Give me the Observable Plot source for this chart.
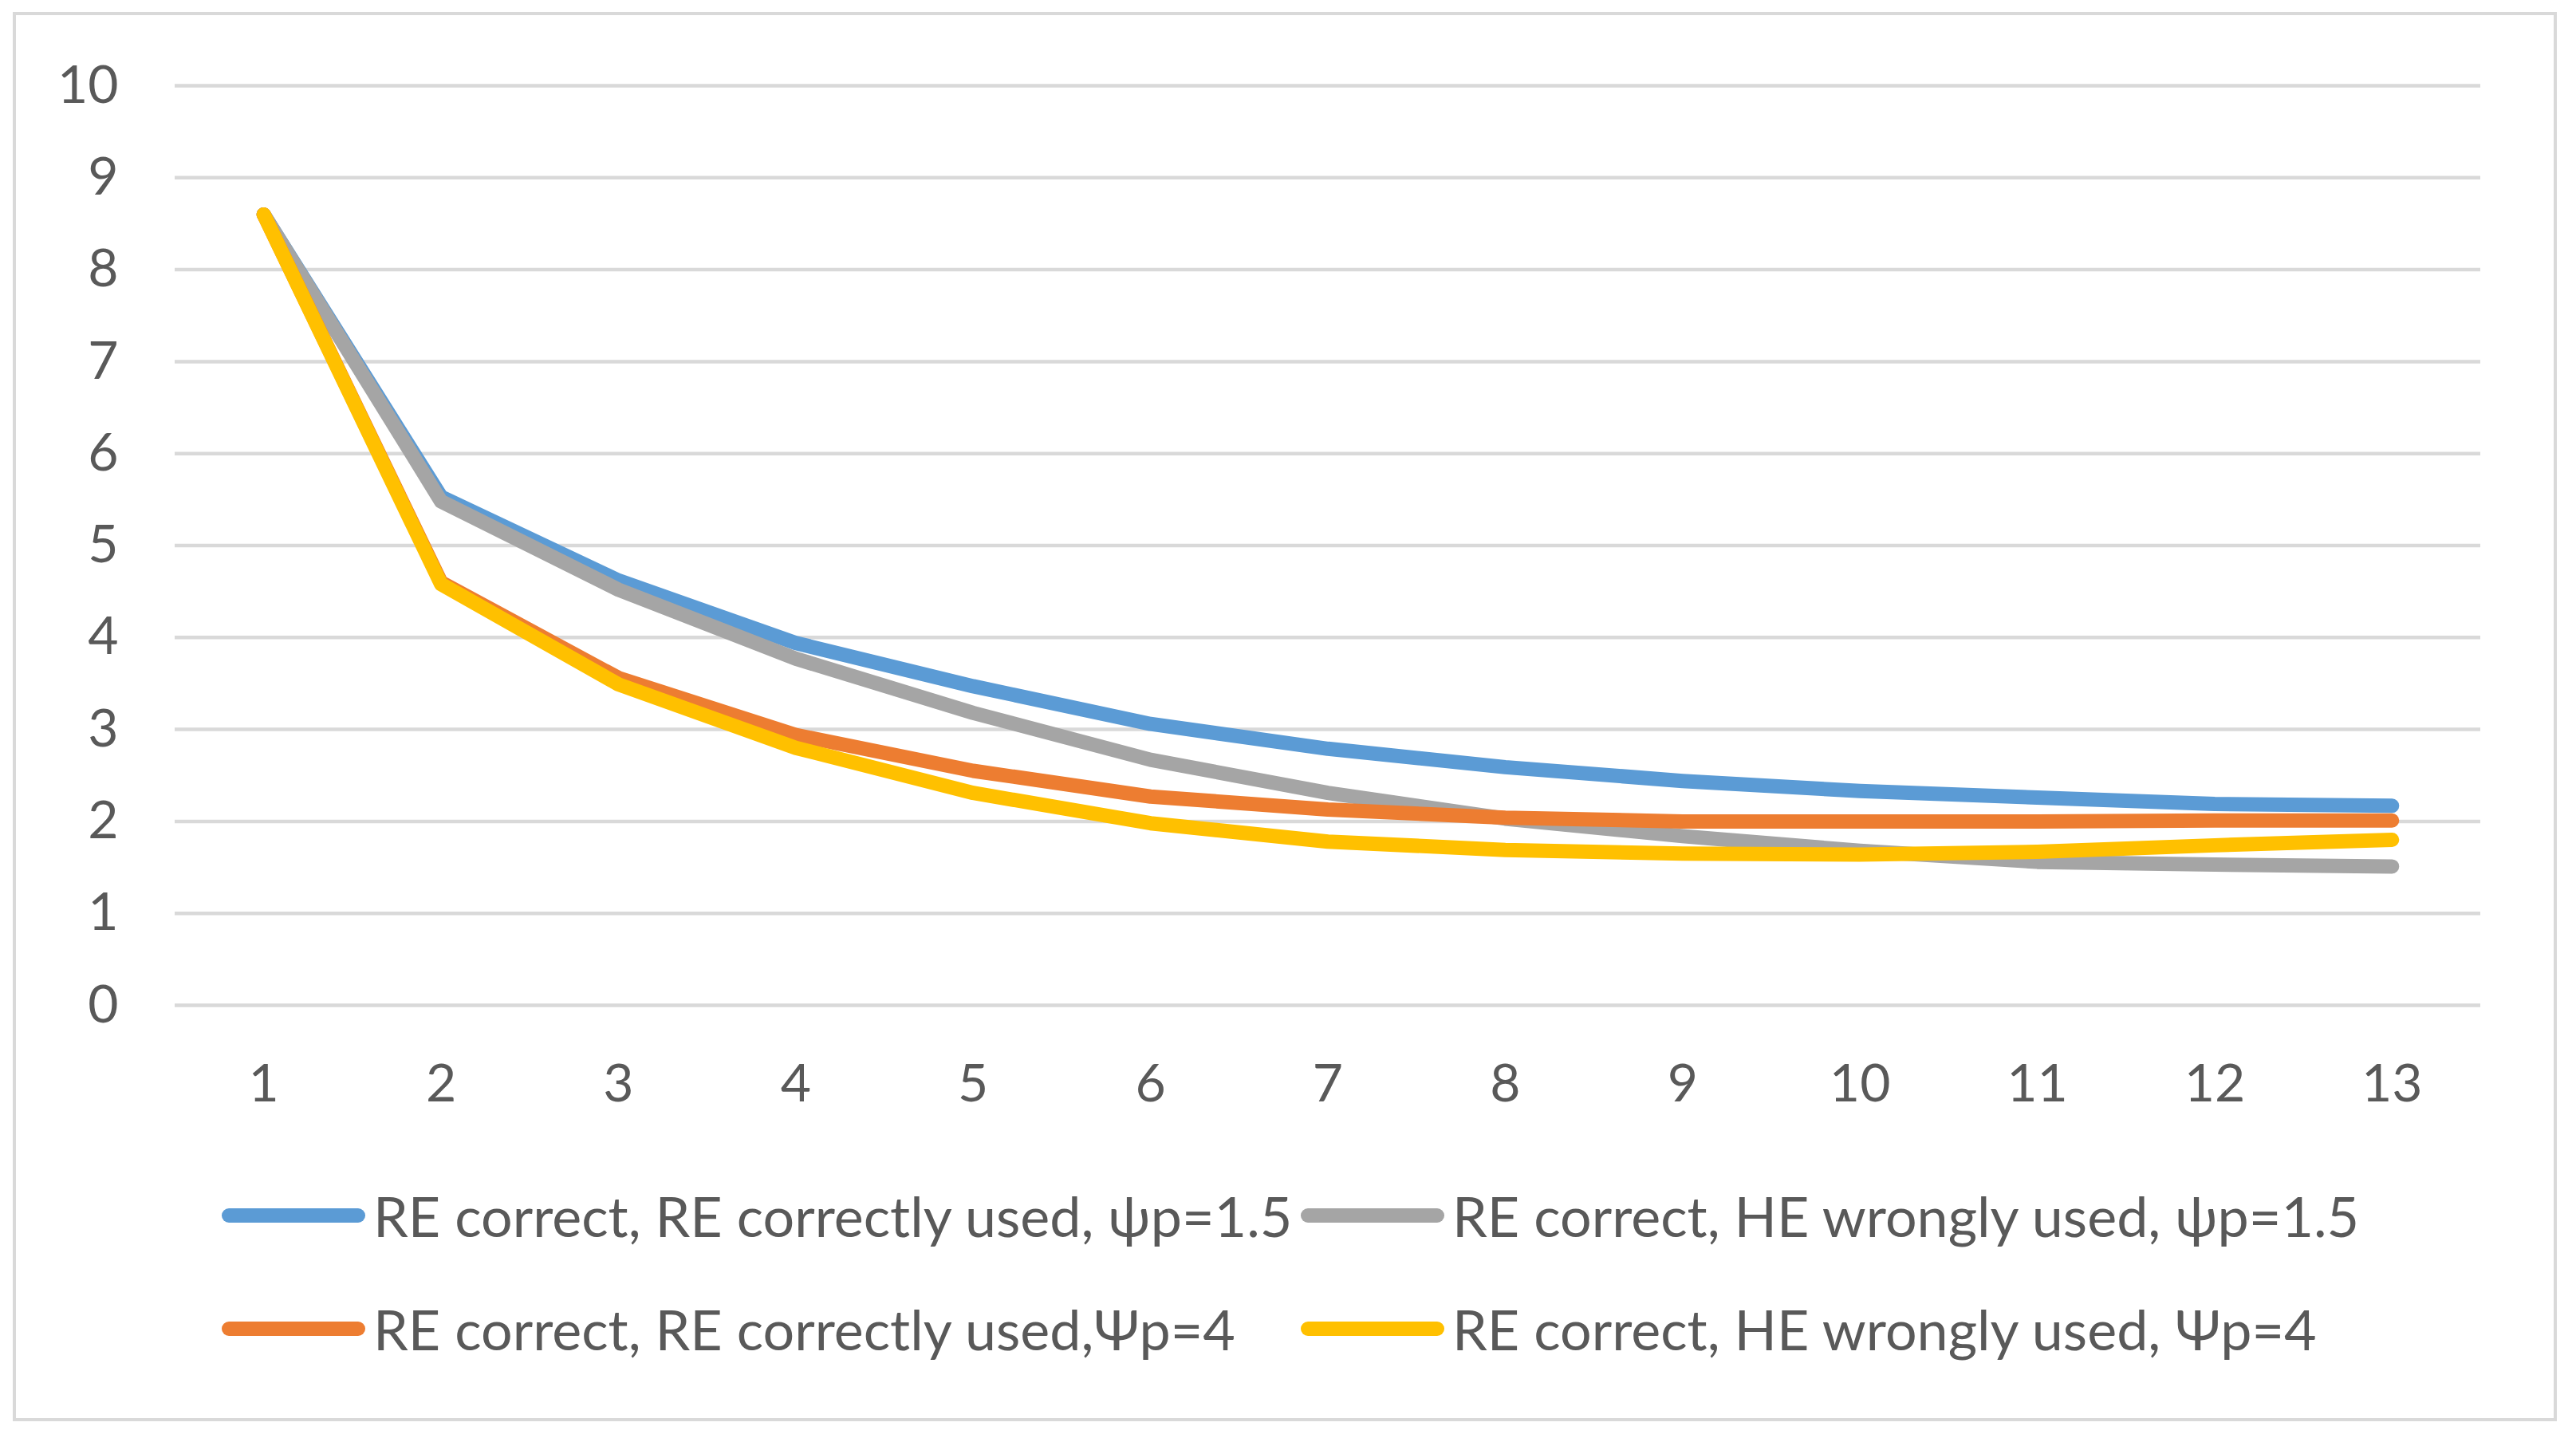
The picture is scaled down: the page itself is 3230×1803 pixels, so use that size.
<!DOCTYPE html>
<html>
<head>
<meta charset="utf-8">
<script src="https://cdn.jsdelivr.net/npm/d3@7"></script>
<script src="https://cdn.jsdelivr.net/npm/@observablehq/plot@0.6"></script>
<style>
  html, body { margin: 0; padding: 0; background: #fff; }
  #wrap { position: relative; width: 3230px; height: 1803px; overflow: hidden; font-family: Lato, "Open Sans", sans-serif; color: #595959; }
  #frame { position: absolute; left: 16px; top: 15px; width: 3190px; height: 1767px; border: 4px solid #d9d9d9; box-sizing: border-box; }
  #chart { position: absolute; left: 0; top: 0; }
  .leg { position: absolute; display: flex; align-items: center; height: 80px; font-size: 70px; white-space: nowrap; }
  .sw { width: 180px; height: 18px; border-radius: 9px; margin-right: 10px; }
</style>
</head>
<body>
<div id="wrap">
  <div id="frame"></div>
  <div id="chart"></div>
</div>
<script>
const categories = [1, 2, 3, 4, 5, 6, 7, 8, 9, 10, 11, 12, 13];
const yTicks = [0, 1, 2, 3, 4, 5, 6, 7, 8, 9, 10];

const seriesNames = [
  "RE correct, RE correctly used, \u03C8p=1.5",
  "RE correct, HE wrongly used, \u03C8p=1.5",
  "RE correct, RE correctly used,\u03A8p=4",
  "RE correct, HE wrongly used, \u03A8p=4"
];
const seriesColors = ["#5B9BD5", "#A5A5A5", "#ED7D31", "#FFC000"];

const blueValues   = [8.6, 5.53, 4.62, 3.94, 3.47, 3.06, 2.79, 2.59, 2.44, 2.33, 2.26, 2.19, 2.17];
const grayValues   = [8.6, 5.48, 4.52, 3.77, 3.18, 2.67, 2.31, 2.03, 1.84, 1.68, 1.56, 1.53, 1.51];
const orangeValues = [8.6, 4.60, 3.56, 2.94, 2.55, 2.27, 2.13, 2.04, 2.00, 2.00, 2.00, 2.01, 2.01];
const yellowValues = [8.6, 4.58, 3.49, 2.80, 2.31, 1.98, 1.78, 1.69, 1.65, 1.64, 1.67, 1.74, 1.80];

const allValues = [blueValues, grayValues, orangeValues, yellowValues];

const lineMarks = allValues.map((vals, i) =>
  Plot.line(categories.map((c, j) => ({x: c, y: vals[j]})), {
    x: "x", y: "y",
    stroke: seriesColors[i],
    strokeWidth: 18,
    strokeLinecap: "round",
    strokeLinejoin: "round"
  })
);

const chart = Plot.plot({
  width: 3230,
  height: 1420,
  marginLeft: 219,
  marginRight: 120,
  marginTop: 107,
  marginBottom: 160,
  style: { fontFamily: "Lato, 'Open Sans', sans-serif", fontSize: "66px", color: "#595959", background: "transparent" },
  x: { domain: [0.5, 13.5] },
  y: { domain: [0, 10] },
  marks: [
    Plot.ruleY(yTicks, { stroke: "#d9d9d9", strokeWidth: 4.5 }),
    Plot.axisX({ ticks: categories, tickFormat: d => String(d), tickSize: 0, tickPadding: 74, label: null, fontSize: 66 }),
    Plot.axisY({ ticks: yTicks, tickFormat: d => String(d), tickSize: 0, tickPadding: 71, label: null, fontSize: 66 }),
    ...lineMarks
  ]
});
document.getElementById("chart").appendChild(chart);

// legend
const legendPos = [
  { left: 278, top: 1484 },
  { left: 1631, top: 1484 },
  { left: 278, top: 1626 },
  { left: 1631, top: 1626 }
];
const wrap = document.getElementById("wrap");
seriesNames.forEach((name, i) => {
  const item = document.createElement("div");
  item.className = "leg";
  item.style.left = legendPos[i].left + "px";
  item.style.top = legendPos[i].top + "px";
  const sw = document.createElement("div");
  sw.className = "sw";
  sw.style.background = seriesColors[i];
  const tx = document.createElement("span");
  tx.textContent = name;
  item.appendChild(sw);
  item.appendChild(tx);
  wrap.appendChild(item);
});
</script>
</body>
</html>
